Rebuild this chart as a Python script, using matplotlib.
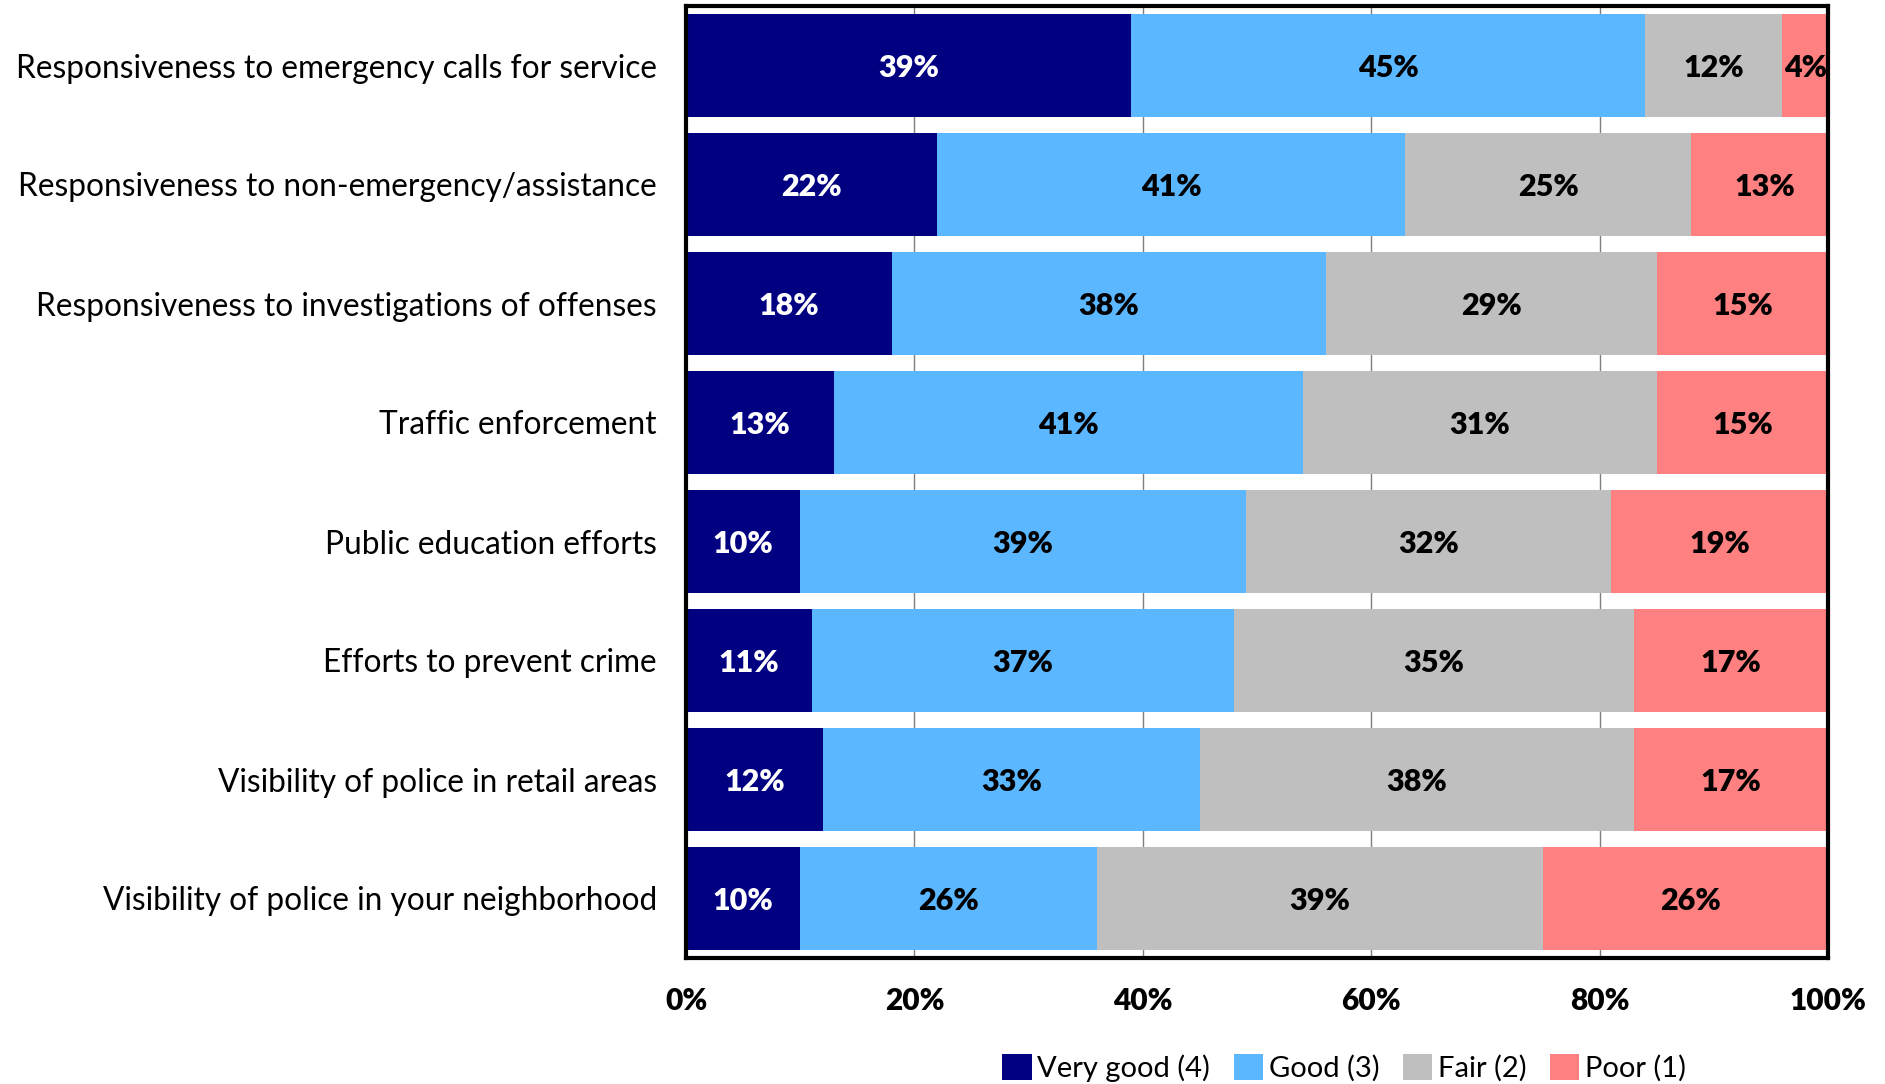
import numpy as np
import matplotlib.pyplot as plt
from matplotlib.ticker import FuncFormatter

plt.rcParams['font.family'] = ['Lato', 'DejaVu Sans']

# Survey items, top to bottom
items = [
    'Responsiveness to emergency calls for service',
    'Responsiveness to non-emergency/assistance',
    'Responsiveness to investigations of offenses',
    'Traffic enforcement',
    'Public education efforts',
    'Efforts to prevent crime',
    'Visibility of police in retail areas',
    'Visibility of police in your neighborhood',
]

# Percent of responses per rating
very_good = [39, 22, 18, 13, 10, 11, 12, 10]
good = [45, 41, 38, 41, 39, 37, 33, 26]
fair = [12, 25, 29, 31, 32, 35, 38, 39]
poor = [4, 13, 15, 15, 19, 17, 17, 26]

ratings = ['Very good (4)', 'Good (3)', 'Fair (2)', 'Poor (1)']
colors = ['#000080', '#5BB7FF', '#BFBFBF', '#FF8080']
text_colors = ['white', 'black', 'black', 'black']

fig = plt.figure(figsize=(18.85, 10.84), dpi=100)
ax = fig.add_axes([686 / 1885, 1 - 958 / 1084, (1828 - 686) / 1885, (958 - 6) / 1084])

y = np.arange(len(items))
left = np.zeros(len(items))
for vals, name, c, tc in zip([very_good, good, fair, poor], ratings, colors, text_colors):
    vals = np.array(vals, dtype=float)
    ax.barh(y, vals, left=left, height=0.86, color=c, label=name, zorder=2)
    for xi, yi, v in zip(left, y, vals):
        ax.text(xi + v / 2, yi + 0.02, f'{v:.0f}%', ha='center', va='center',
                color=tc, fontsize=22, fontweight='heavy', zorder=3)
    left += vals

ax.set_xlim(0, 100)
ax.set_ylim(len(items) - 0.5, -0.5)
ax.set_yticks(y)
ax.set_yticklabels(items, fontsize=22.8)
ax.set_xticks([0, 20, 40, 60, 80, 100])
ax.xaxis.set_major_formatter(FuncFormatter(lambda v, p: f'{v:.0f}%'))
for lbl in ax.get_xticklabels():
    lbl.set_fontweight('heavy')
    lbl.set_fontsize(21.5)
ax.tick_params(axis='both', length=0)
ax.tick_params(axis='x', pad=21)
ax.tick_params(axis='y', pad=21)

ax.grid(axis='x', color='#7F7F7F', linewidth=1, zorder=0)
for s in ax.spines.values():
    s.set_linewidth(3)
    s.set_color('black')

ax.legend(loc='center', bbox_to_anchor=(1344 / 1885, 1 - 1068 / 1084), bbox_transform=fig.transFigure,
          ncol=4, frameon=False, fontsize=21, handlelength=1.0, handleheight=1.0,
          handletextpad=0.2, columnspacing=0.8)

fig.savefig('out.png', dpi=100)
